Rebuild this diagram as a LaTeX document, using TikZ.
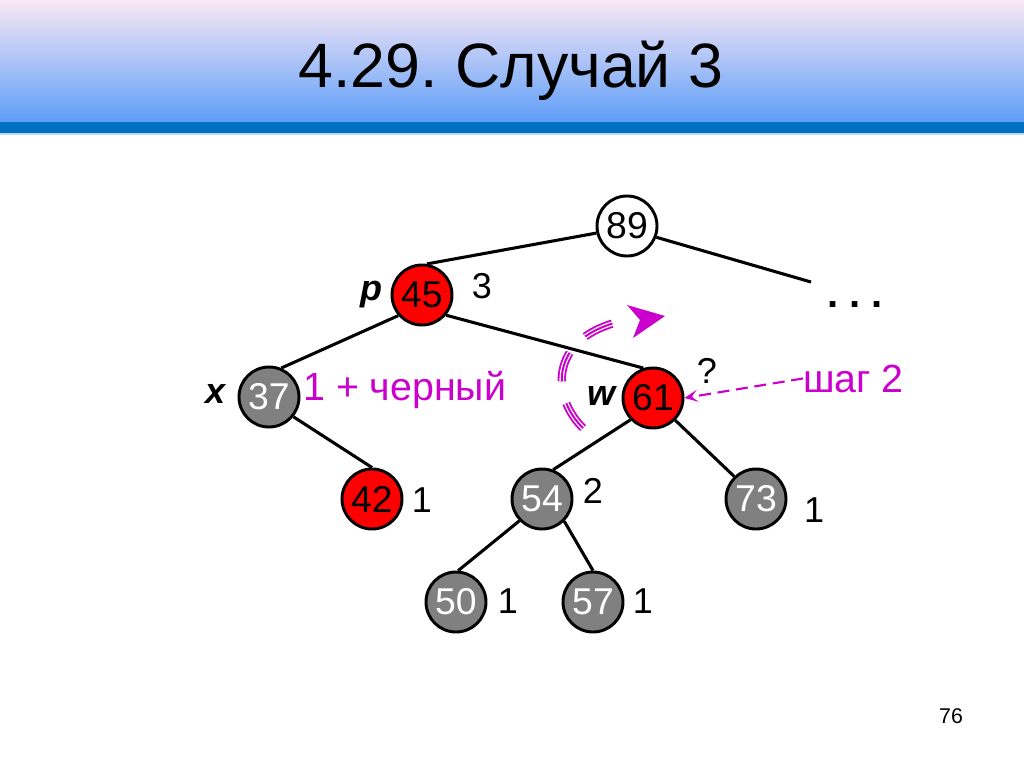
\documentclass[tikz,border=0pt]{standalone}
\usepackage{fontspec}
\setmainfont{Liberation Sans}
\usetikzlibrary{arrows.meta}
\frenchspacing
\definecolor{mag}{RGB}{204,0,204}
\definecolor{hdrtop}{RGB}{250,232,246}
\definecolor{hdrbot}{RGB}{94,158,248}
\definecolor{band}{RGB}{0,112,192}
\definecolor{gnode}{RGB}{128,128,128}
\tikzset{
  vtx/.style={circle, draw=black, line width=2.2pt, minimum size=45pt, inner sep=0pt, font=\fontsize{28}{28}\selectfont},
  rednode/.style={vtx, fill=red, text=black},
  graynode/.style={vtx, fill=gnode, text=white},
  whitenode/.style={vtx, fill=white, text=black},
  edge/.style={line width=2.3pt, black},
  lbl/.style={anchor=base, inner sep=0pt, font=\fontsize{27}{27}\selectfont},
  varlbl/.style={anchor=base, inner sep=0pt, font=\fontsize{27}{27}\selectfont\bfseries\itshape},
  maglbl/.style={anchor=base west, inner sep=0pt, text=mag, font=\fontsize{29.5}{29.5}\selectfont},
  arcpath/.style={dash pattern=on 22.5pt off 17pt},
}
\begin{document}
\begin{tikzpicture}[x=0.75pt,y=-0.75pt]
\useasboundingbox (0,0) rectangle (1024,768);
\fill[white] (0,0) rectangle (1024,768);
% header
\shade[top color=hdrtop, bottom color=hdrbot] (0,0) rectangle (1024,122);
\fill[band] (0,122) rectangle (1024,133);
\fill[hdrbot!40] (0,133) rectangle (1024,135);
\node[anchor=base, inner sep=0pt, font=\fontsize{47}{47}\selectfont] (title) at (511,87) {4.29. Случай 3};
% nodes
\node[whitenode] (n89) at (627,226) {89};
\node[rednode] (n45) at (422,295) {45};
\node[graynode] (n37) at (269,397) {37};
\node[rednode] (n61) at (653,398) {61};
\node[rednode] (n42) at (372,499) {42};
\node[graynode] (n54) at (542,499) {54};
\node[graynode] (n73) at (756,499) {73};
\node[graynode] (n50) at (456,602) {50};
\node[graynode] (n57) at (593,602) {57};
\coordinate (e89) at (811,282);
% edges
\draw[edge] (n89.193) -- (n45.81);
\draw[edge] (n89.339) -- (e89);
\draw[edge] (n45.221) -- (n37.67);
\draw[edge] (n45.320) -- (n61.108);
\draw[edge] (n37.321) -- (n42.90);
\draw[edge] (n61.224) -- (n54.69);
\draw[edge] (n61.315) -- (n73.134);
\draw[edge] (n54.224) -- (n50.86);
\draw[edge] (n54.315) -- (n57.90);
% labels
\node[anchor=base, inner sep=0pt, font=\fontsize{30}{30}\selectfont\bfseries] (dots) at (855,307) {. . .};
\node[varlbl] (lp) at (371,300) {p};
\node[varlbl] (lx) at (216,403) {x};
\node[varlbl] (lw) at (601,405) {w};
\node[lbl] (l3) at (482,298) {3};
\node[lbl] (lq) at (707,383) {?};
\node[lbl] (l42) at (422,512) {1};
\node[lbl] (l54) at (593,503) {2};
\node[lbl] (l73) at (814,522) {1};
\node[lbl] (l50) at (508,613) {1};
\node[lbl] (l57) at (643,613) {1};
\node[maglbl] (black) at (303,400) {1 + черный};
\node[maglbl] (step2) at (803,392) {шаг 2};
\node[anchor=base, inner sep=0pt, font=\fontsize{16}{16}\selectfont] (pg) at (951,723) {76};
% dashed arrow
\draw[mag, line width=1.6pt, dash pattern=on 9pt off 5pt, -{Stealth[length=10pt,width=9pt,inset=4.5pt]}] (step2.west) -- (n61.east);
% rotation arc (triple line)
\draw[mag, line width=6.2pt, arcpath] (583,428) .. controls (552,398) and (548,340) .. (618,322);
\draw[white, line width=3.4pt, arcpath] (583,428) .. controls (552,398) and (548,340) .. (618,322);
\draw[mag, line width=1.5pt, arcpath] (583,428) .. controls (552,398) and (548,340) .. (618,322);
\fill[mag] (665,316) -- (627,305) -- (640,320) -- (633,338) -- cycle;
\end{tikzpicture}
\end{document}
